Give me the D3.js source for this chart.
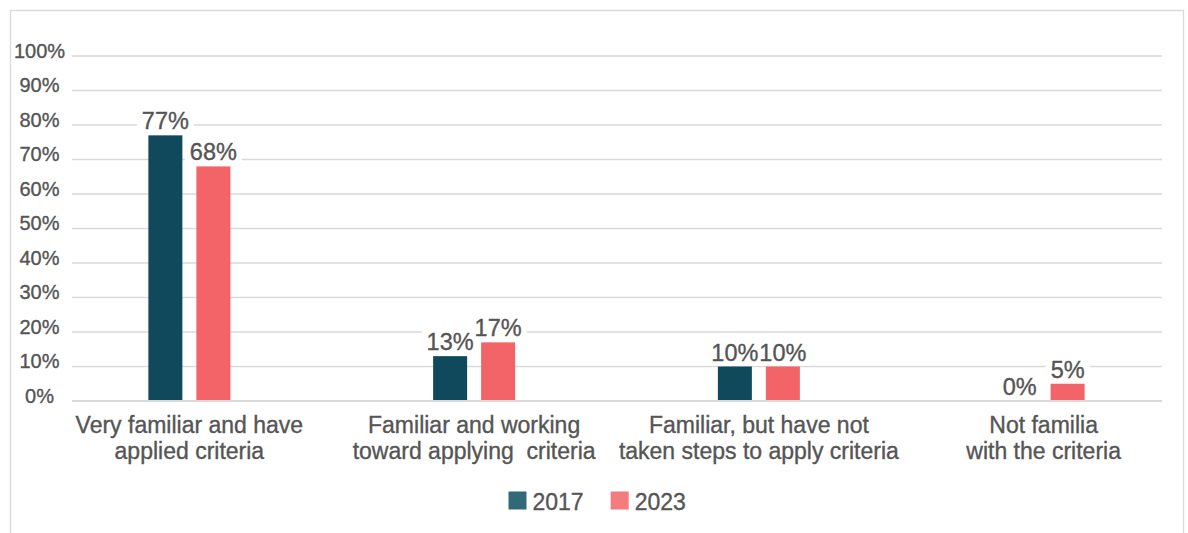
<!DOCTYPE html>
<html>
<head>
<meta charset="utf-8">
<script src="https://cdn.jsdelivr.net/npm/d3@7"></script>
<style>
  body { margin: 0; background: #fff; }
  svg { display: block; font-family: "Liberation Sans", Arial, sans-serif; }
  svg text { stroke: #555; stroke-width: 0.35px; }
</style>
</head>
<body>
<svg id="chart" width="1188" height="533"></svg>
<script>
// Survey answers, one entry per category (line breaks mark the wrapped label lines)
const categories = [
  "Very familiar and have\napplied criteria",
  "Familiar and working\ntoward applying  criteria",
  "Familiar, but have not\ntaken steps to apply criteria",
  "Not familia\nwith the criteria"
];
const seriesNames = ["2017", "2023"];
const values2017 = [0.77, 0.13, 0.10, 0.00];
const values2023 = [0.68, 0.17, 0.10, 0.05];
const yTicks = [0, 0.1, 0.2, 0.3, 0.4, 0.5, 0.6, 0.7, 0.8, 0.9, 1.0];

const barColors = ["#10495B", "#F26468"];
const legendColors = ["#336878", "#F47B7E"];
const textColor = "#555555";
const gridColor = "#d9d9d9";

const seriesValues = [values2017, values2023];
const rows = categories.map((c, i) => ({
  category: c,
  bars: seriesNames.map((s, j) => ({ series: s, value: seriesValues[j][i] }))
}));

const svg = d3.select("#chart");

// frame around the chart
svg.append("rect")
  .attr("x", 10.5).attr("y", 10.5)
  .attr("width", 1173).attr("height", 560)
  .attr("fill", "none").attr("stroke", gridColor).attr("stroke-width", 1.3);

const plotLeft = 72, plotRight = 1162;

const y = d3.scaleLinear().domain([0, 1]).range([401, 56]);
const x0 = d3.scaleBand().domain(categories).range([47, 1186]).padding(0);
const x1 = d3.scaleBand().domain(seriesNames).range([-41, 41]).paddingInner(0.2917).paddingOuter(0);
const color = d3.scaleOrdinal().domain(seriesNames).range(barColors);
const legendColor = d3.scaleOrdinal().domain(seriesNames).range(legendColors);

// horizontal gridlines
svg.append("g").selectAll("line")
  .data(yTicks.filter(d => d > 0))
  .join("line")
  .attr("x1", plotLeft).attr("x2", plotRight)
  .attr("y1", d => y(d)).attr("y2", d => y(d))
  .attr("stroke", gridColor).attr("stroke-width", 1.3);

// value axis labels
const yAxis = d3.axisLeft(y).tickValues(yTicks).tickFormat(d3.format(".0%")).tickSize(0).tickPadding(0);
const yg = svg.append("g").attr("transform", "translate(39.5,0)").call(yAxis);
yg.select(".domain").remove();
yg.selectAll("text")
  .attr("text-anchor", "middle")
  .attr("dy", "0")
  .attr("y", 1)
  .attr("fill", textColor)
  .style("font-size", "20px")
  .style("font-family", "\"Liberation Sans\", Arial, sans-serif");

// bars
const groups = svg.append("g").selectAll("g")
  .data(rows)
  .join("g")
  .attr("transform", d => `translate(${x0(d.category) + x0.bandwidth() / 2},0)`);

groups.selectAll("rect")
  .data(d => d.bars)
  .join("rect")
  .attr("x", d => x1(d.series))
  .attr("width", x1.bandwidth())
  .attr("y", d => y(d.value))
  .attr("height", d => y(0) - y(d.value))
  .attr("fill", d => color(d.series));

// category axis line
svg.append("line")
  .attr("x1", plotLeft).attr("x2", plotRight)
  .attr("y1", y(0)).attr("y2", y(0))
  .attr("stroke", gridColor).attr("stroke-width", 2);

// data labels: white backing boxes first, then the text on top
const fmt = d3.format(".0%");
const labelLayer = svg.append("g");
const labels = [];
rows.forEach(r => {
  const cx = x0(r.category) + x0.bandwidth() / 2;
  r.bars.forEach(b => {
    labels.push({ x: cx + x1(b.series) + x1.bandwidth() / 2, y: y(b.value) - 6, text: fmt(b.value) });
  });
});
const bgLayer = labelLayer.append("g");
const txtLayer = labelLayer.append("g");
txtLayer.selectAll("text")
  .data(labels)
  .join("text")
  .attr("x", d => d.x)
  .attr("y", d => d.y)
  .attr("text-anchor", "middle")
  .attr("fill", textColor)
  .style("font-size", "23.5px")
  .text(d => d.text)
  .each(function (d) { d.box = this.getBBox(); });
bgLayer.selectAll("rect")
  .data(labels)
  .join("rect")
  .attr("x", d => d.box.x - 5)
  .attr("y", d => d.box.y)
  .attr("width", d => d.box.width + 10)
  .attr("height", d => d.box.height)
  .attr("fill", "#fff");

// category labels
const catLabels = svg.append("g").selectAll("text")
  .data(categories)
  .join("text")
  .attr("text-anchor", "middle")
  .attr("fill", textColor)
  .style("font-size", "23px")
  .style("white-space", "pre")
  .attr("xml:space", "preserve");
catLabels.selectAll("tspan")
  .data(d => d.split("\n").map(line => ({ line, cat: d })))
  .join("tspan")
  .attr("x", d => x0(d.cat) + x0.bandwidth() / 2)
  .attr("y", (d, i) => 433 + i * 25.6)
  .text(d => d.line);

// legend
const legend = svg.append("g").attr("transform", "translate(508.5,0)");
let lx = 0;
seriesNames.forEach(s => {
  const item = legend.append("g").attr("transform", `translate(${lx},0)`);
  item.append("rect")
    .attr("x", 0).attr("y", 491.5)
    .attr("width", 18).attr("height", 18)
    .attr("fill", legendColor(s));
  const t = item.append("text")
    .attr("x", 24).attr("y", 509.5)
    .attr("fill", textColor)
    .style("font-size", "23px")
    .text(s);
  lx += 24 + t.node().getComputedTextLength() + 27;
});
</script>
</body>
</html>
